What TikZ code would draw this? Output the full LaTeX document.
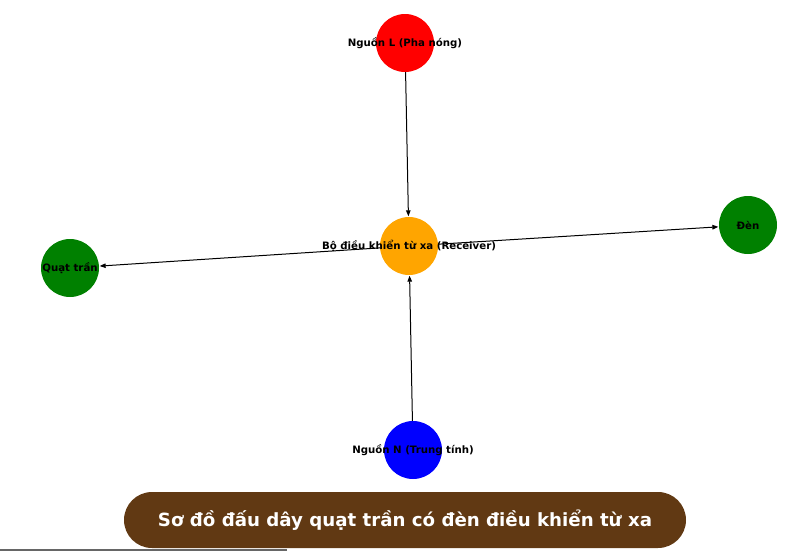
\documentclass[tikz,border=0pt]{standalone}
\usepackage{fontspec}
\setmainfont{DejaVu Sans}
\usetikzlibrary{arrows.meta}

\definecolor{bannerbrown}{HTML}{613913}
\definecolor{ctrlorange}{HTML}{FFA500}
\definecolor{loadgreen}{HTML}{008000}

\tikzset{
	dot/.style = {circle, minimum size=58pt, inner sep=0pt},
	tag/.style = {font=\bfseries\fontsize{10.2}{11}\selectfont, inner sep=0pt},
	wire/.style = {line width=1pt, -{Triangle[length=6pt,width=4.5pt]}, shorten >=0.5pt}
}

\begin{document}
\begin{tikzpicture}[x=1pt, y=-1pt]
	\useasboundingbox (0,0) rectangle (800,552);
	%circles
	\node [dot, fill=red] (L) at (405,43) {};
	\node [dot, fill=ctrlorange] (R) at (409,246) {};
	\node [dot, fill=loadgreen] (D) at (748,225) {};
	\node [dot, fill=loadgreen] (Q) at (70,268) {};
	\node [dot, fill=blue] (N) at (413,450) {};
	
	%wires
	\draw [wire] (L) -- (R);
	\draw [wire] (N) -- (R);
	\draw [wire] (R) -- (D);
	\draw [wire] (R) -- (Q);
	
	%labels
	\node [tag] (L-t) at (L) {Nguồn L (Pha nóng)};
	\node [tag] (R-t) at (R) {Bộ điều khiển từ xa (Receiver)};
	\node [tag] (D-t) at (D) {Đèn};
	\node [tag] (Q-t) at (Q) {Quạt trần};
	\node [tag] (N-t) at (N) {Nguồn N (Trung tính)};
	
	%title
	\node [fill=bannerbrown, text=white, rounded corners=28pt, minimum width=562pt, minimum height=56pt, font=\bfseries\fontsize{18.2}{20}\selectfont] (title) at (405,520) {Sơ đồ đấu dây quạt trần có đèn điều khiển từ xa};
	\draw [gray!80!black, line width=1.5pt] (0,550) -- (287,550);
\end{tikzpicture}
\end{document}
